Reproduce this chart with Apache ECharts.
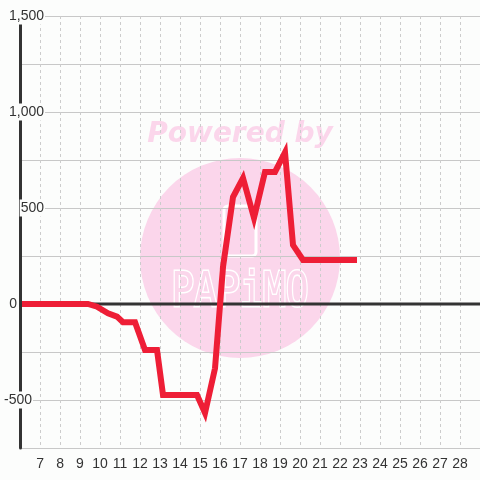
<!DOCTYPE html>
<html>
<head>
<meta charset="utf-8">
<script src="https://cdn.jsdelivr.net/npm/echarts@6/dist/echarts.min.js"></script>
<style>
html,body{margin:0;padding:0;background:#fcfdfc;}
#chart{width:480px;height:480px;}
</style>
</head>
<body>
<div id="chart"></div>
<script>
// Data (x = day of month, fractional), y = value
const times  = [6, 9.4, 9.85, 10.4, 10.85, 11.15, 11.75, 12.25, 12.85, 13.15, 14.85, 15.25, 15.75, 16.15, 16.65, 17.15, 17.7, 18.25, 18.75, 19.25, 19.65, 20.15, 22.85];
const values = [0, 0, -14, -48, -66, -95, -95, -240, -240, -474, -474, -568, -335, 193, 557, 656, 448, 688, 688, 790, 307, 229, 229];
const xTickLabels = [7,8,9,10,11,12,13,14,15,16,17,18,19,20,21,22,23,24,25,26,27,28];
const yTickLabels = {1500:'1,500', 1000:'1,000', 500:'500', 0:'0', '-500':'-500'};

const BG = '#fcfdfc';
const PINK = '#fbd6eb';
const FONT = '"Liberation Sans", Arial, sans-serif';
const chart = echarts.init(document.getElementById('chart'), null, {renderer:'canvas'});
const seriesData = times.map((t,i)=>[t, values[i]]);

chart.setOption({
  backgroundColor: BG,
  animation: false,
  textStyle: {fontFamily: FONT},
  grid: {left:20, right:0, top:16, bottom:32, containLabel:false},
  xAxis: {
    type:'value', min:6, max:29, interval:1,
    axisLine:{show:true, lineStyle:{color:'#cccccc', width:1}},
    axisTick:{show:false},
    splitLine:{show:true, lineStyle:{color:'#cccccc', type:[3,3], width:1}},
    axisLabel:{
      color:'#333333', fontSize:14, fontFamily:FONT, margin:9,
      showMinLabel:false, showMaxLabel:false,
      formatter: v => xTickLabels.indexOf(v) >= 0 ? String(v) : ''
    }
  },
  yAxis: [{
    type:'value', min:-750, max:1500, interval:250,
    axisLine:{show:false}, axisTick:{show:false}, axisLabel:{show:false},
    splitLine:{show:true, lineStyle:{color:'#c8c8c8', width:1}}
  },{
    type:'value', min:-750, max:1500, interval:250, position:'left', z:5,
    axisLine:{show:true, onZero:false, lineStyle:{color:'#333333', width:3}},
    axisTick:{show:false},
    splitLine:{show:false},
    axisLabel:{
      margin:-25, color:'#333333', fontSize:14, fontFamily:FONT,
      showMinLabel:true, showMaxLabel:true,
      formatter: v => {
        const s = yTickLabels[v];
        if (s === undefined) return '';
        if (v === 0) return '{t|' + s + '}{s0| }';
        if (v === -500) return '{t|' + s + '}{s1| }';
        return '{t|' + s + '}';
      },
      rich:{
        t:{backgroundColor:BG, padding:[2,1,1,1], fontSize:14, color:'#333333', fontFamily:FONT},
        s0:{width:27, fontSize:14, fontFamily:FONT},
        s1:{width:12, fontSize:14, fontFamily:FONT}
      }
    }
  }],
  graphic: [
    {type:'circle', z:-10, shape:{cx:240, cy:258, r:100}, style:{fill:PINK}, silent:true},
    {type:'text', z:-10, left:'center', top:121, silent:true,
     style:{text:'Powered by', fill:PINK, font:'italic bold 28px "DejaVu Sans"'}},
    {type:'text', z:-9, x:240, y:270, silent:true, scaleY:1.25, originX:0, originY:0,
     style:{text:'PAPiMO', fill:PINK, stroke:'#ffffff', lineWidth:2.5, align:'center', verticalAlign:'top', font:'38px "DejaVu Sans Mono"'}},
    {type:'rect', z:-8, shape:{x:224, y:206, width:32, height:50, r:4}, style:{fill:'none', stroke:'#ffffff', lineWidth:3}, silent:true}
  ],
  series: [{
    type:'line', yAxisIndex:0, z:1, silent:true, symbol:'none',
    data:[[6,0],[29,0]],
    lineStyle:{color:'#333333', width:3}
  },{
    type:'line', yAxisIndex:0, z:3, symbol:'none', silent:true,
    data: seriesData,
    lineStyle:{color:'#ee1e36', width:6, join:'miter'}
  }]
});
</script>
</body>
</html>
